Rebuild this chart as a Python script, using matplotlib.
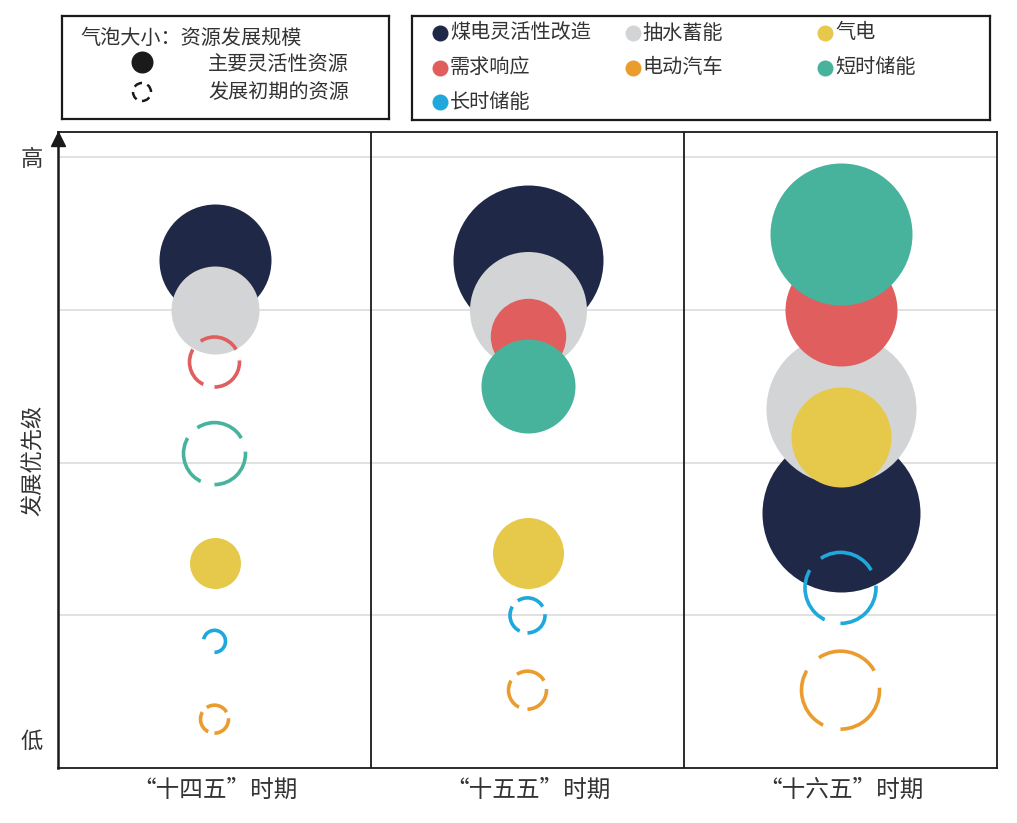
import numpy as np
import matplotlib.pyplot as plt

plt.rcParams['font.family'] = ['Noto Sans CJK SC', 'DejaVu Sans']
plt.rcParams['lines.scale_dashes'] = False

DPI = 100
PT = 72 / DPI  # points per pixel

periods = ['“十四五”时期', '“十五五”时期', '“十六五”时期']
resources = ['煤电灵活性改造', '抽水蓄能', '气电', '需求响应', '电动汽车', '短时储能', '长时储能']
colors = ['#1f2847', '#d3d4d6', '#e6c94b', '#e05e5e', '#eb9c2f', '#48b39c', '#1fa8dc']

# priority level (y) of each resource per period, in resource order
priority_145 = [3.33, 3.00, 1.34, 2.66, 0.32, 2.06, 0.83]
priority_155 = [3.33, 3.00, 1.41, 2.83, 0.51, 2.50, 1.00]
priority_165 = [1.67, 2.35, 2.17, 3.00, 0.51, 3.50, 1.18]

# bubble radius (development scale)
scale_145 = [56, 44, 25.5, 25, 14, 31, 11]
scale_155 = [75, 58.5, 35.5, 37.7, 19, 47, 17.5]
scale_165 = [79, 75, 50, 56, 39, 71, 35.5]

# True = main flexible resource (solid), False = early stage (dashed ring)
mature_145 = [True, True, True, False, False, False, False]
mature_155 = [True, True, True, True, False, True, False]
mature_165 = [True, True, True, True, False, True, False]

priorities = [priority_145, priority_155, priority_165]
scales = [scale_145, scale_155, scale_165]
matures = [mature_145, mature_155, mature_165]

y_ticks = [4.0, 0.19]
y_ticklabels = ['高', '低']

text_color = '#333333'


def ring_dash(r_px, n, frac):
    period = 2 * np.pi * r_px * PT / n
    return (0, (period * frac, period * (1 - frac)))


def bubble(ax, x, y, r, color, solid, n_dash=3, lw=2.6):
    s = (2 * r * PT) ** 2
    if solid:
        ax.scatter([x], [y], s=s, color=color, linewidths=0, zorder=3)
    else:
        n = 1 if r < 13 else n_dash
        frac = 0.72 if n == 1 else 0.78
        ax.scatter([x], [y], s=s, facecolors='none', edgecolors=color,
                   linewidths=lw, linestyles=[ring_dash(r, n, frac)], zorder=4)


fig = plt.figure(figsize=(1017 / DPI, 823 / DPI), dpi=DPI)
W, H = 1017, 823

ax = fig.add_axes([58 / W, 1 - 768 / H, 939 / W, 636 / H])
ax.set_xlim(0, 3)
ax.set_ylim(0, 4.167)

for yg in [1, 2, 3, 4]:
    ax.axhline(yg, color='#dedede', lw=1.3, zorder=1)
for xd in [1, 2]:
    ax.axvline(xd, color='#1a1a1a', lw=1.3, zorder=5)

for i in range(len(periods)):
    for j in range(len(resources)):
        bubble(ax, i + 0.5, priorities[i][j], scales[i][j], colors[j], matures[i][j])

for side in ['top', 'right', 'bottom']:
    ax.spines[side].set_linewidth(1.3)
    ax.spines[side].set_color('#1a1a1a')
ax.spines['left'].set_linewidth(1.8)
ax.spines['left'].set_color('#1a1a1a')
ax.plot([0], [0.989], marker='^', ms=10, color='#1a1a1a', transform=ax.transAxes,
        clip_on=False, zorder=6)

ax.set_xticks([0.5, 1.5, 2.5])
ax.set_xticklabels(periods, fontsize=17, color=text_color)
for lab in ax.get_xticklabels():
    lab.set_x(lab.get_position()[0])
ax.set_yticks(y_ticks)
ax.set_yticklabels(y_ticklabels, fontsize=16, color=text_color)
ax.tick_params(length=0)
ax.tick_params(axis='x', pad=8)
ax.tick_params(axis='y', pad=11)
ax.set_ylabel('发展优先级', fontsize=16, color=text_color)
ax.yaxis.set_label_coords(-0.014, 0.484)

# legend 1: bubble meaning
lg1 = fig.add_axes([62 / W, 1 - 119 / H, 327 / W, 103 / H])
lg1.set_xlim(0, 327)
lg1.set_ylim(103, 0)
lg1.set_xticks([])
lg1.set_yticks([])
for sp in lg1.spines.values():
    sp.set_linewidth(1.6)
    sp.set_color('#1a1a1a')
lg1.text(18, 22, '气泡大小：资源发展规模', fontsize=14.5, color=text_color, va='center')
lg1.scatter([80], [46], s=(22 * PT) ** 2, color='#1a1a1a', linewidths=0)
lg1.text(146, 48, '主要灵活性资源', fontsize=14.5, color=text_color, va='center')
lg1.scatter([80], [76], s=(18 * PT) ** 2, facecolors='none', edgecolors='#1a1a1a',
            linewidths=1.8, linestyles=[ring_dash(9, 4, 0.6)])
lg1.text(146, 76, '发展初期的资源', fontsize=14.5, color=text_color, va='center')

# legend 2: resource colours
lg2 = fig.add_axes([412 / W, 1 - 120 / H, 578 / W, 104 / H])
lg2.set_xlim(0, 578)
lg2.set_ylim(104, 0)
lg2.set_xticks([])
lg2.set_yticks([])
for sp in lg2.spines.values():
    sp.set_linewidth(1.6)
    sp.set_color('#1a1a1a')
for k, (name, c) in enumerate(zip(resources, colors)):
    row, col = divmod(k, 3)
    cx = 28 + col * 192.5
    cy = 17 + row * 34.5
    lg2.scatter([cx], [cy], s=(16 * PT) ** 2, color=c, linewidths=0)
    lg2.text(cx + 10, cy, name, fontsize=14.5, color=text_color, va='center')

fig.savefig('out.png', dpi=DPI)
